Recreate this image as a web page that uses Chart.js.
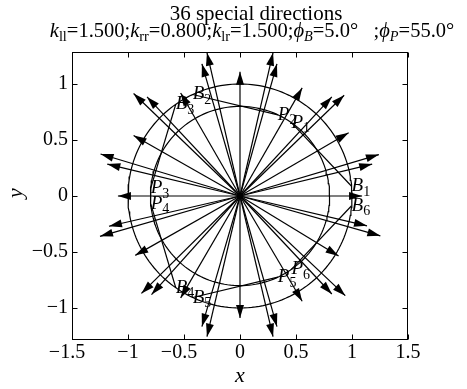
<!DOCTYPE html>
<html>
<head>
<meta charset="utf-8">
<script src="https://cdn.jsdelivr.net/npm/chart.js@4.4.0/dist/chart.umd.min.js"></script>
<style>
  html, body { margin: 0; padding: 0; background: #fff; }
  canvas { display: block; }
</style>
</head>
<body>
<canvas id="chart1" width="467" height="389"></canvas>
<script>
// axis ticks (negative labels get a trailing en space, MATLAB centres the digits)
const xTicks = [-1.5, -1, -0.5, 0, 0.5, 1, 1.5];
const xTickLabels = ['\u22121.5\u2002', '\u22121', '\u22120.5\u2002', '0', '0.5', '1', '1.5'];
const yTicks = [-1, -0.5, 0, 0.5, 1];
const yTickLabels = ['\u22121', '\u22120.5', '0', '0.5', '1'];

// outer unit circle and inner circle (k_rr)
const circleRadii = [1.0, 0.8];

// B points sit on the outer circle, P points on the inner one (degrees)
const pointNums = ['1', '2', '3', '4', '5', '6'];
const bAngles = [5, 115, 125, 235, 245, 355];
const pAngles = [55, 65, 175, 185, 295, 305];

// tips of the 36 direction arrows (all start at the origin)
const tipX = [1.09, 1.18, 1.24, 0.97, 0.93, 0.82, 0.555, 0.33, 0.295, 0,
              -0.295, -0.34, -0.53, -0.83, -0.95, -0.95, -1.245, -1.185, -1.09,
              -1.17, -1.25, -0.935, -0.88, -0.79, -0.53, -0.34, -0.295, 0,
              0.295, 0.33, 0.555, 0.82, 0.94, 0.88, 1.253, 1.134];
const tipY = [0, 0.285, 0.37, 0.565, 0.90, 0.885, 0.965, 1.18, 1.28, 1.11,
              1.28, 1.18, 0.92, 0.885, 0.915, 0.54, 0.375, 0.285, 0,
              -0.27, -0.36, -0.53, -0.87, -0.88, -0.91, -1.166, -1.256, -1.09,
              -1.256, -1.166, -0.94, -0.875, -0.89, -0.535, -0.356, -0.266];

const SERIF = '"Liberation Serif", "Times New Roman", serif';
const LW = 1.2;
const rad = d => d * Math.PI / 180;

const datasets = [];
circleRadii.forEach(r => {
    const pts = [];
    for (let a = 0; a <= 360; a += 2) {
        pts.push({x: r * Math.cos(rad(a)), y: r * Math.sin(rad(a))});
    }
    datasets.push({data: pts, showLine: true, borderColor: '#000', borderWidth: LW, pointRadius: 0});
});
// B_i -> P_i segments
bAngles.forEach((b, i) => {
    datasets.push({
        data: [{x: Math.cos(rad(b)), y: Math.sin(rad(b))},
               {x: 0.8 * Math.cos(rad(pAngles[i])), y: 0.8 * Math.sin(rad(pAngles[i]))}],
        showLine: true, borderColor: '#000', borderWidth: LW, pointRadius: 0
    });
});
// arrows
tipX.forEach((tx, i) => {
    datasets.push({
        data: [{x: 0, y: 0}, {x: tx, y: tipY[i]}],
        showLine: true, borderColor: '#000', borderWidth: LW, pointRadius: 0,
        arrow: true
    });
});

// text with sub-scripts: parts are [text, italic, sub]
function drawRich(ctx, parts, cx, baseY, size) {
    const fontOf = p => (p[1] ? 'italic ' : '') + (p[2] ? (size * 0.7).toFixed(1) : size) + 'px ' + SERIF;
    let w = 0;
    parts.forEach(p => { ctx.font = fontOf(p); w += ctx.measureText(p[0]).width; });
    let x = cx - w / 2;
    ctx.textAlign = 'left';
    ctx.textBaseline = 'alphabetic';
    parts.forEach(p => {
        ctx.font = fontOf(p);
        ctx.fillText(p[0], x, baseY + (p[2] ? size * 0.2 : 0));
        x += ctx.measureText(p[0]).width;
    });
}

function drawPointLabel(ctx, letter, num, px, py) {
    ctx.textAlign = 'left';
    ctx.textBaseline = 'middle';
    ctx.font = 'italic 19px ' + SERIF;
    ctx.fillText(letter, px, py);
    const w = ctx.measureText(letter).width;
    ctx.font = '14px ' + SERIF;
    ctx.fillText(num, px + w, py + 6);
}

const decorPlugin = {
    id: 'decor',
    afterDatasetsDraw(chart) {
        const ctx = chart.ctx;
        const xs = chart.scales.x, ys = chart.scales.y;
        ctx.save();
        ctx.fillStyle = '#000';
        // arrow heads
        chart.data.datasets.forEach((ds, i) => {
            if (!ds.arrow) return;
            const meta = chart.getDatasetMeta(i);
            const p0 = meta.data[0], p1 = meta.data[1];
            const ang = Math.atan2(p1.y - p0.y, p1.x - p0.x);
            ctx.save();
            ctx.translate(p1.x, p1.y);
            ctx.rotate(ang);
            ctx.beginPath();
            ctx.moveTo(0, 0);
            ctx.lineTo(-13, -4);
            ctx.lineTo(-13, 4);
            ctx.closePath();
            ctx.fill();
            ctx.restore();
        });
        // B and P labels
        bAngles.forEach((b, i) => {
            drawPointLabel(ctx, 'B', pointNums[i], xs.getPixelForValue(Math.cos(rad(b))), ys.getPixelForValue(Math.sin(rad(b))));
        });
        pAngles.forEach((p, i) => {
            drawPointLabel(ctx, 'P', pointNums[i], xs.getPixelForValue(0.8 * Math.cos(rad(p))), ys.getPixelForValue(0.8 * Math.sin(rad(p))));
        });
        ctx.restore();
    },
    afterDraw(chart) {
        const ctx = chart.ctx;
        const a = chart.chartArea;
        const xs = chart.scales.x, ys = chart.scales.y;
        ctx.save();
        ctx.strokeStyle = '#000';
        ctx.fillStyle = '#000';
        ctx.lineWidth = 1;
        // box
        const L = Math.round(a.left) + 0.5, R = Math.round(a.right) - 0.5;
        const T = Math.round(a.top) + 0.5, B = Math.round(a.bottom) - 0.5;
        ctx.strokeRect(L, T, R - L, B - T);
        // inward ticks on all sides
        ctx.beginPath();
        xTicks.forEach(v => {
            const px = Math.round(xs.getPixelForValue(v)) + 0.5;
            ctx.moveTo(px, B); ctx.lineTo(px, B - 5);
            ctx.moveTo(px, T); ctx.lineTo(px, T + 5);
        });
        yTicks.forEach(v => {
            const py = Math.round(ys.getPixelForValue(v)) + 0.5;
            ctx.moveTo(L, py); ctx.lineTo(L + 5, py);
            ctx.moveTo(R, py); ctx.lineTo(R - 5, py);
        });
        ctx.stroke();
        // titles
        ctx.textAlign = 'center';
        ctx.textBaseline = 'alphabetic';
        ctx.font = '21px ' + SERIF;
        ctx.fillText('36 special directions', 256, 20);
        drawRich(ctx, [
            ['k', true], ['ll', false, true], ['=1.500;', false],
            ['k', true], ['rr', false, true], ['=0.800;', false],
            ['k', true], ['lr', false, true], ['=1.500;', false],
            ['\u03D5', true], ['B', true, true], ['=5.0\u00B0   ;', false],
            ['\u03D5', true], ['P', true, true], ['=55.0\u00B0', false]
        ], 252, 37, 20.5);
        // axis labels
        ctx.font = 'italic 22px ' + SERIF;
        ctx.textAlign = 'center';
        ctx.textBaseline = 'middle';
        ctx.fillText('x', xs.getPixelForValue(0), 376);
        ctx.save();
        ctx.translate(16, ys.getPixelForValue(0) - 3);
        ctx.rotate(-Math.PI / 2);
        ctx.fillText('y', 0, 0);
        ctx.restore();
        ctx.restore();
    }
};

Chart.defaults.color = '#000';
Chart.defaults.font.family = SERIF;

const ctx1 = document.getElementById('chart1').getContext('2d');
const chart1 = new Chart(ctx1, {
    type: 'scatter',
    data: { datasets: datasets },
    options: {
        responsive: false,
        animation: false,
        layout: { padding: { top: 52, right: 59, left: 0, bottom: 0 } },
        plugins: {
            legend: { display: false },
            tooltip: { enabled: false },
            title: { display: false }
        },
        scales: {
            x: {
                type: 'linear',
                min: -1.5,
                max: 1.5,
                afterBuildTicks: s => { s.ticks = xTicks.map(v => ({value: v})); },
                afterFit: s => { s.height = 49; },
                grid: { display: false, drawTicks: false },
                border: { display: false },
                ticks: {
                    autoSkip: false,
                    maxRotation: 0,
                    padding: 1,
                    font: { size: 20, family: SERIF },
                    callback: (v, i) => xTickLabels[i]
                }
            },
            y: {
                type: 'linear',
                min: -1.2857,
                max: 1.2857,
                afterBuildTicks: s => { s.ticks = yTicks.map(v => ({value: v})); },
                afterFit: s => { s.width = 72; },
                grid: { display: false, drawTicks: false },
                border: { display: false },
                ticks: {
                    autoSkip: false,
                    padding: 4,
                    font: { size: 20, family: SERIF },
                    callback: (v, i) => yTickLabels[i]
                }
            }
        }
    },
    plugins: [decorPlugin]
});
</script>
</body>
</html>
